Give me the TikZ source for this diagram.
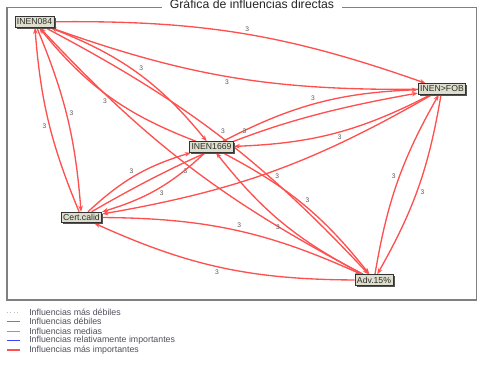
\documentclass[tikz,border=0pt]{standalone}
\usepackage{fontspec}
\setmainfont{Liberation Sans}
\usetikzlibrary{arrows.meta,shadows}
\definecolor{edgered}{RGB}{255,80,80}
\definecolor{nodefill}{RGB}{222,222,206}
\definecolor{nodetext}{RGB}{45,45,40}
\definecolor{framegray}{RGB}{128,128,128}
\definecolor{legtext}{RGB}{80,80,90}
\tikzset{
  varbox/.style={draw=black!80, line width=0.6pt, fill=nodefill, text=nodetext,
    font=\fontsize{6.5}{7}\selectfont, inner xsep=1.5pt, inner ysep=0pt,
    minimum height=8pt,
    drop shadow={shadow xshift=1.2pt, shadow yshift=-1.2pt, fill=black!70, opacity=0.8}},
  infl/.style={draw=edgered, line width=1pt,
    -{Stealth[length=4.5pt,width=3.4pt]}},
  lbl/.style={font=\fontsize{5}{5}\selectfont, text=black!65, inner sep=1.2pt,
    midway, auto},
  legtxt/.style={font=\fontsize{6.6}{7}\selectfont, text=legtext, anchor=west, inner sep=0pt}
}
\begin{document}
\begin{tikzpicture}[x=0.75pt,y=-0.75pt]
\useasboundingbox (0,0) rectangle (480,372);
\fill[white] (0,0) rectangle (480,372);
% frame
\draw[framegray, line width=0.8pt] (7,7.3) rectangle (476.5,300);
\node[fill=white, inner xsep=6pt, inner ysep=0pt, anchor=base,
      font=\fontsize{9.2}{10}\selectfont, text=black!85] (title) at (252,8.6)
      {Gráfica de influencias directas};
% nodes
\node[varbox] (n084)  at (34.5,22)  {INEN084};
\node[varbox] (nfob)  at (442,89)   {INEN>FOB};
\node[varbox] (n1669) at (211.5,147){INEN1669};
\node[varbox] (ncert) at (81.5,217.5){Cert.calid};
\node[varbox] (nadv)  at (374,280)  {Adv.15\%};
% edges (each pair in both directions)
\draw[infl] (n084) to[bend left=10] node[lbl]{3} (nfob);
\draw[infl] (nfob) to[bend left=10] node[lbl]{3} (n084);
\draw[infl] (n084) to[bend left=15] node[lbl]{3} (n1669);
\draw[infl] (n1669) to[bend left=15] node[lbl]{3} (n084);
\draw[infl] (n084) to[bend left=9] node[lbl]{3} (ncert);
\draw[infl] (ncert) to[bend left=9] node[lbl]{3} (n084);
\draw[infl] (n084) to[bend left=9.5] node[lbl]{3} (nadv);
\draw[infl] (nadv) to[bend left=9.5] node[lbl]{3} (n084);
\draw[infl] (nfob) to[bend left=12.5] node[lbl]{3} (n1669);
\draw[infl] (n1669) to[bend left=12.5] node[lbl]{3} (nfob);
\draw[infl] (nfob) to[bend left=10] node[lbl]{3} (ncert);
\draw[infl] (ncert) to[bend left=10] node[lbl]{3} (nfob);
\draw[infl] (nfob) to[bend left=10] node[lbl]{3} (nadv);
\draw[infl] (nadv) to[bend left=10] node[lbl]{3} (nfob);
\draw[infl] (n1669) to[bend left=13] node[lbl]{3} (ncert);
\draw[infl] (ncert) to[bend left=13] node[lbl]{3} (n1669);
\draw[infl] (n1669) to[bend left=12] node[lbl]{3} (nadv);
\draw[infl] (nadv) to[bend left=12] node[lbl]{3} (n1669);
\draw[infl] (ncert) to[bend left=12] node[lbl]{3} (nadv);
\draw[infl] (nadv) to[bend left=12] node[lbl]{3} (ncert);
% redraw nodes on top
\node[varbox] at (n084) {INEN084};
\node[varbox] at (nfob) {INEN>FOB};
\node[varbox] at (n1669) {INEN1669};
\node[varbox] at (ncert) {Cert.calid};
\node[varbox] at (nadv) {Adv.15\%};
% legend
\draw[black!25, line width=0.6pt, dotted] (7,312) -- (20,312);
\node[legtxt] (l1) at (29,312) {Influencias más débiles};
\draw[black!50, line width=0.6pt] (7,321.5) -- (20,321.5);
\node[legtxt] (l2) at (29,321.5) {Influencias débiles};
\draw[blue!45, line width=0.7pt] (7,331) -- (20,331);
\node[legtxt] (l3) at (29,331) {Influencias medias};
\draw[blue!75, line width=1pt] (7,340.5) -- (20,340.5);
\node[legtxt] (l4) at (29,340.5) {Influencias relativamente importantes};
\draw[edgered, line width=1.1pt] (7,350) -- (20,350);
\node[legtxt] (l5) at (29,350) {Influencias más importantes};
\end{tikzpicture}
\end{document}
